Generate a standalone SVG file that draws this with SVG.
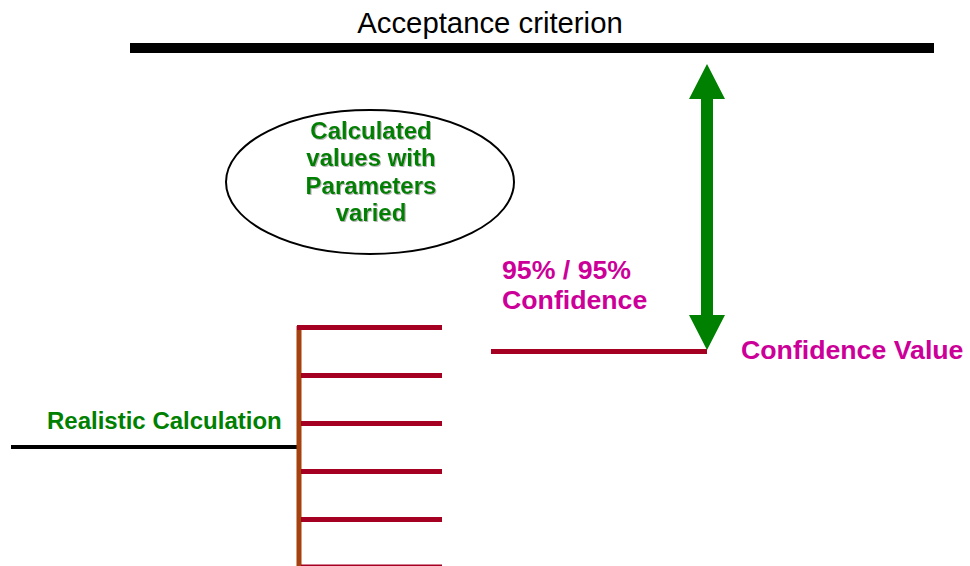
<svg xmlns="http://www.w3.org/2000/svg" width="970" height="566" viewBox="0 0 970 566">
  <style>
    .title { font-family: "Liberation Sans", Arial, sans-serif; font-size: 29.3px; fill: #000; }
    .green { font-family: "Liberation Sans", Arial, sans-serif; font-size: 24px; font-weight: bold; fill: #008000; }
    .magenta { font-family: "Liberation Sans", Arial, sans-serif; font-size: 26.7px; font-weight: bold; fill: #CC0099; }
    .branch { stroke: #A50021; stroke-width: 5; fill: none; }
  </style>
  <defs>
    <filter id="shadow" x="-10%" y="-10%" width="120%" height="130%">
      <feDropShadow dx="1" dy="1" stdDeviation="0.4" flood-color="#999" flood-opacity="0.7"/>
    </filter>
  </defs>
  <rect width="970" height="566" fill="#fff"/>

  <!-- acceptance criterion bar -->
  <g id="acceptance">
    <line x1="130" y1="48" x2="934" y2="48" stroke="#000" stroke-width="10"/>
    <text class="title" x="490" y="33" text-anchor="middle">Acceptance criterion</text>
  </g>

  <!-- ellipse node -->
  <g id="calculated">
    <ellipse cx="370" cy="182" rx="144" ry="72" fill="#fff" stroke="#000" stroke-width="2"/>
    <g class="green" text-anchor="middle" filter="url(#shadow)">
      <text x="371" y="139">Calculated</text>
      <text x="371" y="166">values with</text>
      <text x="371" y="194">Parameters</text>
      <text x="371" y="221">varied</text>
    </g>
  </g>

  <!-- realistic calculation -->
  <g id="realistic">
    <text class="green" x="47" y="429">Realistic Calculation</text>
  </g>

  <!-- confidence labels -->
  <g id="confidence95">
    <text class="magenta" x="502" y="279">95% / 95%</text>
    <text class="magenta" x="502" y="309">Confidence</text>
  </g>
  <g id="confidenceValue">
    <text class="magenta" x="741" y="359">Confidence Value</text>
  </g>

  <g id="connectors">
    <!-- input line -->
    <line x1="11" y1="447" x2="299" y2="447" stroke="#000" stroke-width="4"/>
    <!-- spread bar -->
    <line x1="299" y1="326" x2="299" y2="566" stroke="#A5400F" stroke-width="5"/>
    <!-- varied results -->
    <line class="branch" x1="297" y1="327.5" x2="442" y2="327.5"/>
    <line class="branch" x1="301" y1="375.5" x2="442" y2="375.5"/>
    <line class="branch" x1="301" y1="423.5" x2="442" y2="423.5"/>
    <line class="branch" x1="301" y1="471.5" x2="442" y2="471.5"/>
    <line class="branch" x1="301" y1="519.5" x2="442" y2="519.5"/>
    <line class="branch" x1="301" y1="567" x2="442" y2="567"/>
    <!-- confidence value line -->
    <line class="branch" x1="491" y1="351.5" x2="707" y2="351.5"/>
    <!-- margin double arrow -->
    <polygon points="707,64 725,99 713,99 713,315 725,315 707,350 689,315 701,315 701,99 689,99" fill="#008000"/>
  </g>
</svg>
